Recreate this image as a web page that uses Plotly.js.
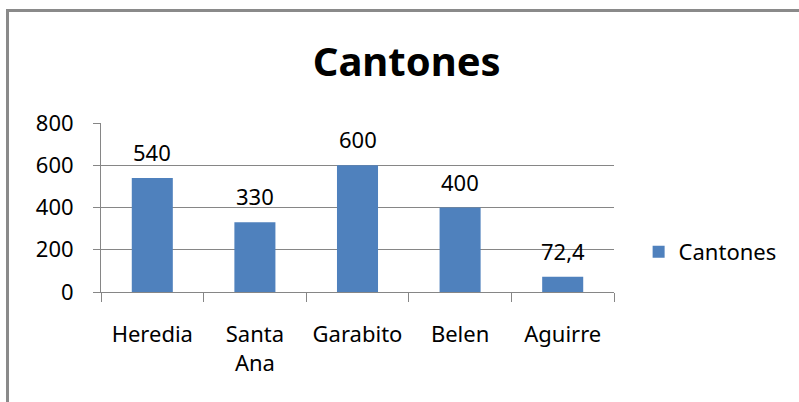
<!DOCTYPE html>
<html>
<head>
<meta charset="utf-8">
<script src="https://cdn.plot.ly/plotly-3.0.1.min.js"></script>
<style>
  html, body { margin: 0; padding: 0; background: #fff; }
  #wrap { position: relative; width: 799px; height: 402px; overflow: hidden; }
  #chart { position: absolute; left: 0; top: 0; width: 799px; height: 402px; }
  #frame { position: absolute; left: 6px; top: 9px; width: 820px; height: 420px;
           border-left: 3px solid #8a8a8a; border-top: 3px solid #8a8a8a; pointer-events: none; }
</style>
</head>
<body>
<div id="wrap">
  <div id="chart"></div>
  <div id="frame"></div>
</div>
<script>
const categories = ['Heredia', 'Santa Ana', 'Garabito', 'Belen', 'Aguirre'];
const values = [540, 330, 600, 400, 72.4];
const seriesName = 'Cantones';
const yTicks = [0, 200, 400, 600, 800];

const FONT = 'Noto Sans, Open Sans, sans-serif';
const FS = 22;
const labels = values.map(v => String(v).replace('.', ','));

const trace = {
  type: 'bar',
  x: categories,
  y: values,
  name: seriesName,
  marker: { color: '#4F81BD' },
  showlegend: true,
  hoverinfo: 'none'
};

const annotations = values.map((v, i) => ({
  x: categories[i], y: v, xref: 'x', yref: 'y',
  text: labels[i], showarrow: false,
  yanchor: 'middle', yshift: 26,
  font: { family: FONT, size: FS, color: '#000' }
}));

const layout = {
  width: 799, height: 402,
  margin: { l: 101, r: 185, t: 123, b: 110, pad: 0 },
  paper_bgcolor: 'rgba(0,0,0,0)',
  plot_bgcolor: 'rgba(0,0,0,0)',
  font: { family: FONT, size: FS, color: '#000' },
  title: {
    text: '<b>Cantones</b>',
    font: { family: FONT, size: 40, color: '#000' },
    x: 0.509, xref: 'container', xanchor: 'center',
    y: 0.845, yref: 'container', yanchor: 'middle'
  },
  bargap: 0.6,
  xaxis: {
    type: 'category',
    tickvals: categories,
    ticktext: categories.map(c => c.replace(' ', '<br>')),
    tickson: 'boundaries',
    ticks: 'outside', ticklen: 9, tickcolor: '#868686', tickwidth: 1,
    showline: true, linecolor: '#868686', linewidth: 1,
    showgrid: false, zeroline: false,
    ticklabelstandoff: 23,
    tickfont: { family: FONT, size: FS, color: '#000' },
    fixedrange: true
  },
  yaxis: {
    range: [0, 800],
    tickvals: yTicks,
    ticks: 'outside', ticklen: 7, tickcolor: '#868686', tickwidth: 1,
    showline: true, linecolor: '#868686', linewidth: 1,
    showgrid: true, gridcolor: '#868686', gridwidth: 1,
    zeroline: false,
    ticklabelstandoff: 15,
    tickfont: { family: FONT, size: FS, color: '#000' },
    fixedrange: true
  },
  legend: {
    x: 1.048, xanchor: 'left', xref: 'paper',
    y: 0.237, yanchor: 'middle', yref: 'paper',
    font: { family: FONT, size: FS, color: '#000' },
    bgcolor: 'rgba(0,0,0,0)'
  },
  annotations: annotations
};

Plotly.newPlot('chart', [trace], layout, { displayModeBar: false, staticPlot: true });
</script>
</body>
</html>
